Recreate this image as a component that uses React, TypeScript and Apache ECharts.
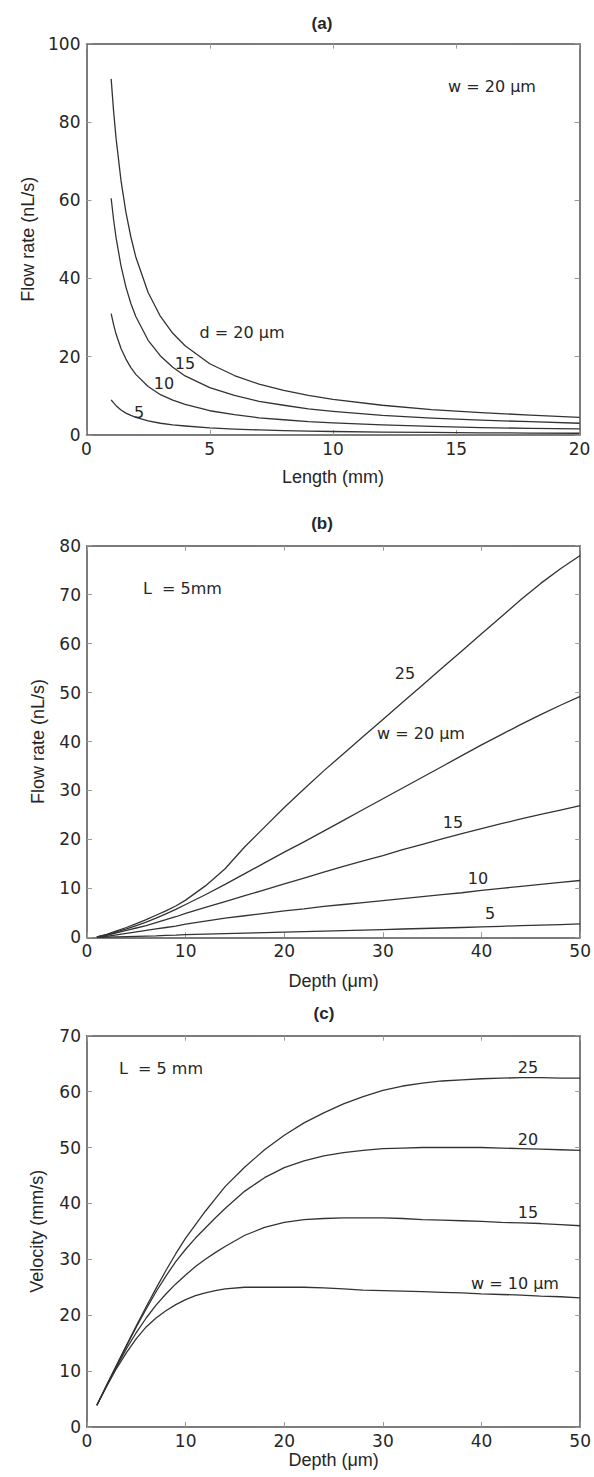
import { useEffect, useRef } from "react";
import * as echarts from "echarts";

// ---------- Panel (a): flow rate vs channel length, w = 20 um ----------
const lengthMm = [1, 1.1, 1.2, 1.4, 1.6, 1.8, 2, 2.5, 3, 3.5, 4, 5, 6, 7, 8, 9, 10, 12, 14, 16, 18, 20];
const flowD20 = [91, 82.7, 75.8, 65, 56.9, 50.6, 45.5, 36.4, 30.3, 26, 22.8, 18.2, 15.2, 13, 11.4, 10.1, 9.1, 7.6, 6.5, 5.7, 5.1, 4.5];
const flowD15 = [60.5, 55, 50.4, 43.2, 37.8, 33.6, 30.3, 24.2, 20.2, 17.3, 15.1, 12.1, 10.1, 8.6, 7.6, 6.7, 6.05, 5.0, 4.3, 3.8, 3.4, 3.0];
const flowD10 = [31, 28.2, 25.8, 22.1, 19.4, 17.2, 15.5, 12.4, 10.3, 8.9, 7.8, 6.2, 5.2, 4.4, 3.9, 3.4, 3.1, 2.6, 2.2, 1.9, 1.7, 1.55];
const flowD5 = [9, 8.2, 7.5, 6.4, 5.6, 5, 4.5, 3.6, 3, 2.6, 2.3, 1.8, 1.5, 1.3, 1.1, 1.0, 0.9, 0.75, 0.65, 0.56, 0.5, 0.45];

// ---------- Panel (b): flow rate vs depth, L = 5 mm ----------
const depthB = [1, 2, 3, 4, 5, 6, 7, 8, 9, 10, 12, 14, 16, 18, 20, 22, 24, 26, 28, 30, 32, 34, 36, 38, 40, 42, 44, 46, 48, 50];
const flowW25 = [0.1, 0.6, 1.3, 2.0, 2.8, 3.6, 4.5, 5.4, 6.4, 7.6, 10.5, 14, 18.5, 22.5, 26.5, 30.3, 34, 37.5, 41, 44.5, 48, 51.5, 55, 58.5, 62, 65.5, 69, 72.3, 75.3, 78];
const flowW20 = [0.1, 0.5, 1.1, 1.7, 2.4, 3.1, 3.9, 4.8, 5.7, 6.7, 8.7, 10.8, 13, 15.2, 17.4, 19.5, 21.7, 23.9, 26.1, 28.3, 30.5, 32.7, 34.9, 37.1, 39.3, 41.4, 43.5, 45.5, 47.4, 49.2];
const flowW15 = [0.05, 0.4, 0.9, 1.4, 1.9, 2.4, 3, 3.6, 4.2, 4.9, 6.1, 7.3, 8.5, 9.7, 10.9, 12.1, 13.3, 14.5, 15.6, 16.7, 17.9, 19, 20.1, 21.2, 22.2, 23.2, 24.2, 25.1, 26, 26.9];
const flowW10 = [0.03, 0.2, 0.5, 0.8, 1.1, 1.4, 1.7, 2.0, 2.3, 2.7, 3.3, 3.9, 4.4, 4.9, 5.4, 5.8, 6.3, 6.7, 7.1, 7.5, 7.9, 8.3, 8.7, 9.1, 9.6, 10, 10.4, 10.8, 11.2, 11.6];
const flowW5 = [0, 0.05, 0.1, 0.15, 0.2, 0.25, 0.3, 0.4, 0.45, 0.55, 0.65, 0.75, 0.85, 0.95, 1.05, 1.15, 1.25, 1.35, 1.45, 1.55, 1.7, 1.8, 1.9, 2.0, 2.15, 2.25, 2.4, 2.5, 2.6, 2.75];

// ---------- Panel (c): velocity vs depth, L = 5 mm ----------
const depthC = [1, 2, 3, 4, 5, 6, 7, 8, 9, 10, 11, 12, 13, 14, 16, 18, 20, 22, 24, 26, 28, 30, 32, 34, 36, 38, 40, 42, 44, 46, 48, 50];
const velW25 = [3.9, 7.5, 11.1, 14.6, 18.1, 21.5, 24.8, 28, 31, 33.8, 36.2, 38.6, 40.8, 43, 46.5, 49.6, 52.2, 54.4, 56.2, 57.8, 59.1, 60.2, 61, 61.5, 61.9, 62.1, 62.3, 62.4, 62.5, 62.5, 62.4, 62.4];
const velW20 = [3.9, 7.5, 11, 14.5, 17.9, 21.1, 24.2, 27, 29.6, 31.8, 33.8, 35.6, 37.4, 39.1, 42.2, 44.6, 46.4, 47.6, 48.5, 49.1, 49.5, 49.8, 49.9, 50, 50, 50, 50, 49.9, 49.8, 49.7, 49.6, 49.5];
const velW15 = [3.9, 7.4, 10.8, 14, 16.9, 19.5, 21.8, 23.8, 25.6, 27.2, 28.7, 30, 31.2, 32.3, 34.3, 35.7, 36.6, 37.1, 37.3, 37.4, 37.4, 37.4, 37.3, 37.1, 37, 36.9, 36.8, 36.6, 36.5, 36.4, 36.2, 36];
const velW10 = [3.9, 7.3, 10.5, 13.3, 15.8, 17.9, 19.5, 20.8, 21.9, 22.8, 23.5, 24, 24.4, 24.7, 25, 25, 25, 25, 24.9, 24.7, 24.5, 24.4, 24.3, 24.2, 24.1, 24, 23.8, 23.7, 23.6, 23.4, 23.3, 23.1];

const LINE = "#333333";
const AXIS = "#505050";
const TXT = "#262626";
const TICK_FONT = '"DejaVu Sans", Verdana, sans-serif';
const NAME_FONT = '"Liberation Sans", Arial, sans-serif';

const zip = (xs: number[], ys: number[]) => xs.map((x, i) => [x, ys[i]]);

function mainX(grid: number, max: number, interval: number, name: string, nameGap: number) {
  return {
    type: "value", gridIndex: grid, min: 0, max, interval, position: "bottom",
    name, nameLocation: "middle", nameGap,
    nameTextStyle: { fontFamily: NAME_FONT, fontSize: 18, color: TXT },
    axisLine: { show: true, onZero: false, lineStyle: { color: AXIS, width: 1.5 } },
    axisTick: { show: true, inside: true, length: 5, lineStyle: { color: "#999", width: 1 } },
    axisLabel: { show: true, fontFamily: TICK_FONT, fontSize: 17, color: TXT, margin: 5 },
    splitLine: { show: false },
  };
}
function mirrorX(grid: number, max: number, interval: number) {
  return {
    type: "value", gridIndex: grid, min: 0, max, interval, position: "top",
    axisLine: { show: true, onZero: false, lineStyle: { color: AXIS, width: 1.5 } },
    axisTick: { show: true, inside: true, length: 5, lineStyle: { color: "#999", width: 1 } },
    axisLabel: { show: false }, splitLine: { show: false },
  };
}
function mainY(grid: number, max: number, interval: number, name: string, nameGap: number) {
  return {
    type: "value", gridIndex: grid, min: 0, max, interval, position: "left",
    name, nameLocation: "middle", nameGap, nameRotate: 90,
    nameTextStyle: { fontFamily: NAME_FONT, fontSize: 18, color: TXT },
    axisLine: { show: true, onZero: false, lineStyle: { color: AXIS, width: 1.5 } },
    axisTick: { show: true, inside: true, length: 5, lineStyle: { color: "#999", width: 1 } },
    axisLabel: { show: true, fontFamily: TICK_FONT, fontSize: 17, color: TXT, margin: 6 },
    splitLine: { show: false },
  };
}
function mirrorY(grid: number, max: number, interval: number) {
  return {
    type: "value", gridIndex: grid, min: 0, max, interval, position: "right",
    axisLine: { show: true, onZero: false, lineStyle: { color: AXIS, width: 1.5 } },
    axisTick: { show: true, inside: true, length: 5, lineStyle: { color: "#999", width: 1 } },
    axisLabel: { show: false }, splitLine: { show: false },
  };
}

function line(grid: number, xs: number[], ys: number[]) {
  return {
    type: "line", xAxisIndex: grid * 2, yAxisIndex: grid * 2,
    data: zip(xs, ys), showSymbol: false, symbol: "none",
    smooth: false,
    lineStyle: { color: LINE, width: 1.3, join: "round" },
    silent: true,
  };
}

function txt(x: number, y: number, text: string, opts: any = {}) {
  return {
    type: "text", x, y, silent: true,
    style: {
      text,
      fill: TXT,
      font: opts.font || `16px ${TICK_FONT}`,
      textAlign: opts.align || "center",
      textVerticalAlign: "middle",
    },
  };
}

export default function App() {
  const ref = useRef<HTMLDivElement>(null);
  useEffect(() => {
    document.body.style.margin = "0";
    const chart = echarts.init(ref.current!, null, { renderer: "svg" });
    const titleFont = `bold 17px ${NAME_FONT}`;
    chart.setOption({
      animation: false,
      backgroundColor: "#ffffff",
      grid: [
        { left: 86.5, top: 43.7, width: 493, height: 391.3 },
        { left: 87, top: 545.7, width: 497, height: 391.6 },
        { left: 87, top: 1035.7, width: 497, height: 391.3 },
      ],
      xAxis: [
        mainX(0, 20, 5, "Length (mm)", 33), mirrorX(0, 20, 5),
        mainX(1, 50, 10, "Depth (μm)", 35), mirrorX(1, 50, 10),
        mainX(2, 50, 10, "Depth (μm)", 24), mirrorX(2, 50, 10),
      ],
      yAxis: [
        mainY(0, 100, 20, "Flow rate (nL/s)", 50), mirrorY(0, 100, 20),
        mainY(1, 80, 10, "Flow rate (nL/s)", 40), mirrorY(1, 80, 10),
        mainY(2, 70, 10, "Velocity (mm/s)", 41), mirrorY(2, 70, 10),
      ],
      series: [
        line(0, lengthMm, flowD20), line(0, lengthMm, flowD15),
        line(0, lengthMm, flowD10), line(0, lengthMm, flowD5),
        line(1, depthB, flowW25), line(1, depthB, flowW20), line(1, depthB, flowW15),
        line(1, depthB, flowW10), line(1, depthB, flowW5),
        line(2, depthC, velW25), line(2, depthC, velW20),
        line(2, depthC, velW15), line(2, depthC, velW10),
      ],
      graphic: [
        txt(322, 23, "(a)", { font: titleFont }),
        txt(492, 86, "w = 20 μm"),
        txt(242, 332, "d = 20 μm"),
        txt(185, 363, "15"),
        txt(164, 383, "10"),
        txt(139, 412, "5"),

        txt(322, 523, "(b)", { font: titleFont }),
        txt(143, 588, "L\u00a0 = 5mm", { align: "left" }),
        txt(405, 673, "25"),
        txt(421, 733, "w = 20 μm"),
        txt(453, 822, "15"),
        txt(478, 878, "10"),
        txt(490, 913, "5"),

        txt(324, 1013, "(c)", { font: titleFont }),
        txt(119, 1068, "L\u00a0 = 5 mm", { align: "left" }),
        txt(528, 1067, "25"),
        txt(528, 1139, "20"),
        txt(528, 1212, "15"),
        txt(515, 1283, "w = 10 μm"),
      ],
    });
    return () => chart.dispose();
  }, []);
  return <div ref={ref} style={{ width: 594, height: 1477 }} />;
}
